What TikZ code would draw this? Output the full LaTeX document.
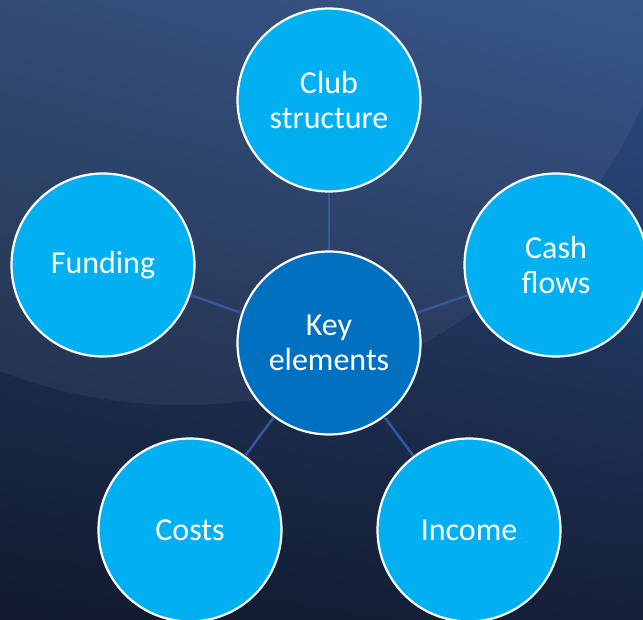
\documentclass[tikz,border=0pt]{standalone}
\usepackage{fontspec}
\setmainfont{Carlito}
\usepackage{xcolor}
\usepackage{tikz}
\usetikzlibrary{shadings}

\definecolor{bgtl}{HTML}{27436F}
\definecolor{bgtr}{HTML}{2D4E86}
\definecolor{bgbl}{HTML}{111A2E}
\definecolor{bgbr}{HTML}{152039}
\definecolor{bubble}{HTML}{00B0F0}
\definecolor{hub}{HTML}{0070C0}
\definecolor{spoke}{HTML}{3558A0}

\tikzset{
  bubble/.style={circle, draw=white, line width=2.2pt, fill=bubble,
    minimum size=183pt, inner sep=0pt, text=white, align=center,
    font=\fontsize{32}{35}\selectfont},
  hubnode/.style={bubble, fill=hub},
  spokeline/.style={draw=spoke, line width=2.4pt}
}

\begin{document}
\begin{tikzpicture}[x=1pt,y=-1pt]
% background
\shade[upper left=bgtl, upper right=bgtr, lower left=bgbl, lower right=bgbr]
  (0,0) rectangle (643,620);
\begin{scope}
\clip (0,0) rectangle (643,620);
\fill[white, opacity=0.05] (182,-98) circle (503);
\end{scope}
\useasboundingbox (0,0) rectangle (643,620);

% nodes
\node[hubnode] (key) at (329,343) {Key\\elements};
\node[bubble] (club) at (329,100) {Club\\structure};
\node[bubble] (cash) at (556,265) {Cash\\flows};
\node[bubble] (fund) at (103,265) {Funding};
\node[bubble] (costs) at (190,530) {Costs};
\node[bubble] (income) at (469,530) {Income};

% spokes
\draw[spokeline] (key) -- (club);
\draw[spokeline] (key) -- (cash);
\draw[spokeline] (key) -- (fund);
\draw[spokeline] (key) -- (costs);
\draw[spokeline] (key) -- (income);
\end{tikzpicture}
\end{document}
